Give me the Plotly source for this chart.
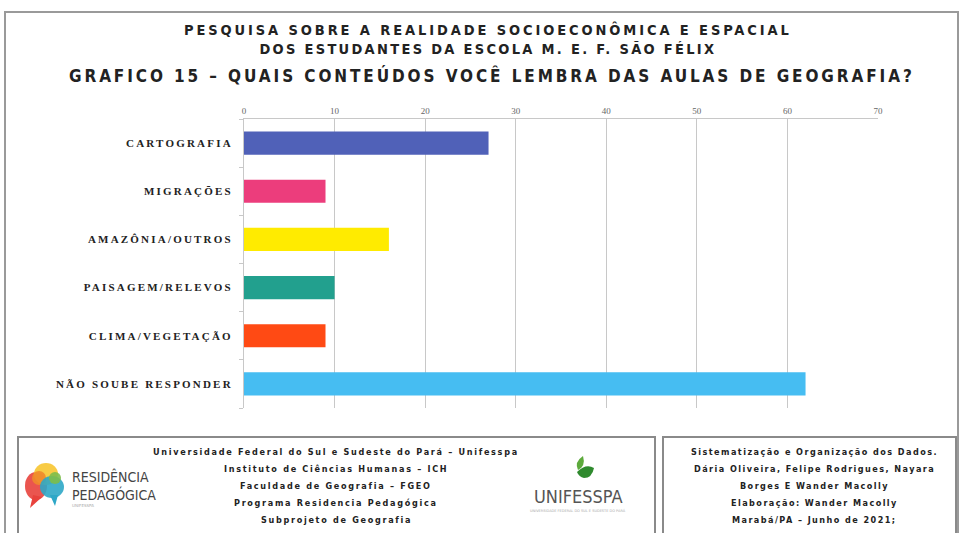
import plotly.graph_objects as go

# Survey answers: contents students remember from Geography classes
categorias = ["CARTOGRAFIA", "MIGRAÇÕES", "AMAZÔNIA/OUTROS",
              "PAISAGEM/RELEVOS", "CLIMA/VEGETAÇÃO", "NÃO SOUBE RESPONDER"]
respostas = [27, 9, 16, 10, 9, 62]
cores = ["#5061B8", "#EC3D7C", "#FFEB00", "#22A08E", "#FF4A14", "#46BDF2"]
ticks_x = [0, 10, 20, 30, 40, 50, 60, 70]

titulo_1 = "PESQUISA SOBRE A REALIDADE SOCIOECONÔMICA E ESPACIAL"
titulo_2 = "DOS ESTUDANTES DA ESCOLA M. E. F. SÃO FÉLIX"
titulo_3 = "GRAFICO 15 – QUAIS CONTEÚDOS VOCÊ LEMBRA DAS AULAS DE GEOGRAFIA?"

rodape_esq = ["Universidade Federal do Sul e Sudeste do Pará – Unifesspa",
              "Instituto de Ciências Humanas – ICH",
              "Faculdade de Geografia – FGEO",
              "Programa Residencia Pedagógica",
              "Subprojeto de Geografia"]
rodape_dir = ["Sistematização e Organização dos Dados.",
              "Dária Oliveira, Felipe Rodrigues, Nayara",
              "Borges E Wander Macolly",
              "Elaboração: Wander Macolly",
              "Marabá/PA – Junho de 2021;"]

W, H = 960, 533
ML, MR, MT, MB = 244, 82, 119, 125
PW, PH = W - ML - MR, H - MT - MB


def px(x):
    return (x - ML) / PW


def py(y):
    return (H - MB - y) / PH


def spaced(t, s):
    return f'<span style="letter-spacing:{s}px">{t}</span>'


COND = "DejaVu Sans Condensed, DejaVu Sans, sans-serif"

fig = go.Figure(go.Bar(
    x=respostas, y=categorias, orientation="h",
    marker=dict(color=cores, line=dict(width=0)),
    width=0.48, hoverinfo="x+y",
))

fig.update_layout(
    width=W, height=H,
    margin=dict(l=ML, r=MR, t=MT, b=MB),
    paper_bgcolor="white", plot_bgcolor="white",
    showlegend=False,
    xaxis=dict(side="top", range=[0, 70], tickvals=ticks_x,
               showgrid=True, gridcolor="#c8c8c8", gridwidth=1,
               showline=True, linecolor="#c8c8c8", linewidth=1,
               zeroline=False, ticks="", fixedrange=True,
               tickfont=dict(family="Liberation Serif, serif", size=9, color="#666")),
    yaxis=dict(autorange="reversed", tickvals=categorias,
               ticktext=[spaced(c, 2.2) for c in categorias],
               showline=True, linecolor="#c8c8c8", linewidth=1,
               ticks="outside", tickson="boundaries", ticklen=4,
               tickcolor="#c8c8c8", showgrid=False, fixedrange=True,
               ticklabelstandoff=8,
               tickfont=dict(family="Liberation Serif, serif", size=11,
                             color="#222", weight="bold")),
)

shapes = []
# outer frame
shapes.append(dict(type="rect", xref="paper", yref="paper",
                   x0=px(5), x1=px(958), y0=py(545), y1=py(12),
                   line=dict(color="#9a9a9a", width=2), layer="below"))
# footer boxes
shapes.append(dict(type="rect", xref="paper", yref="paper",
                   x0=px(18), x1=px(655), y0=py(545), y1=py(437),
                   line=dict(color="#8a8a8a", width=2)))
shapes.append(dict(type="rect", xref="paper", yref="paper",
                   x0=px(663), x1=px(956), y0=py(545), y1=py(437),
                   line=dict(color="#8a8a8a", width=2)))


def blob(cx, cy, rx, ry, color):
    return dict(type="circle", xref="paper", yref="paper",
                x0=px(cx - rx), x1=px(cx + rx), y0=py(cy + ry), y1=py(cy - ry),
                fillcolor=color, line=dict(width=0), opacity=0.9)


# Residência Pedagógica emblem
shapes += [blob(36, 486, 11, 14, "#E8423C"),
           blob(46, 474, 12, 11, "#F7C531"),
           blob(39, 478, 7, 7, "#F08A2C"),
           blob(52, 487, 12, 11, "#2EA7C7"),
           blob(55, 478, 6, 6, "#7DBE4A")]
shapes.append(dict(type="path", xref="paper", yref="paper",
                   path=f"M {px(33)} {py(495)} L {px(30)} {py(508)} L {px(42)} {py(497)} Z",
                   fillcolor="#E8423C", line=dict(width=0)))
shapes.append(dict(type="path", xref="paper", yref="paper",
                   path=f"M {px(50)} {py(495)} L {px(55)} {py(506)} L {px(58)} {py(495)} Z",
                   fillcolor="#2EA7C7", line=dict(width=0)))
# Unifesspa leaf emblem
shapes.append(dict(type="path", xref="paper", yref="paper",
                   path=(f"M {px(583)} {py(456)} Q {px(574)} {py(462)} {px(578)} {py(470)} "
                         f"Q {px(586)} {py(466)} {px(583)} {py(456)} Z"),
                   fillcolor="#5DAA3C", line=dict(width=0)))
shapes.append(dict(type="path", xref="paper", yref="paper",
                   path=(f"M {px(577)} {py(472)} Q {px(586)} {py(463)} {px(594)} {py(468)} "
                         f"Q {px(592)} {py(478)} {px(584)} {py(478)} "
                         f"Q {px(579)} {py(477)} {px(577)} {py(472)} Z"),
                   fillcolor="#2F8A2E", line=dict(width=0)))
fig.update_layout(shapes=shapes)

ann = []


def text(x, y, t, size, family, color="#222", bold=True, anchor="center", sp=0):
    ann.append(dict(x=px(x), y=py(y), xref="paper", yref="paper",
                    text=spaced(t, sp) if sp else t, showarrow=False,
                    xanchor=anchor, yanchor="middle",
                    font=dict(family=family, size=size, color=color,
                              weight="bold" if bold else "normal")))


text(488, 38.5, spaced(titulo_1, 2.9) + "<br>" + spaced(titulo_2, 2.3), 14.5, COND)
text(492, 76, titulo_3, 17, COND, sp=2.9)

for i, t in enumerate(rodape_esq):
    text(336, 452 + 17 * i, t, 9, COND, sp=1.7)
for i, t in enumerate(rodape_dir):
    text(814, 452 + 17 * i, t, 9, COND, sp=1.45)

text(70, 476, "RESIDÊNCIA", 14, COND, color="#444", bold=False, anchor="left")
text(70, 494, "PEDAGÓGICA", 14, COND, color="#444", bold=False, anchor="left")
text(70, 505, "UNIFESSPA", 4, "DejaVu Sans", color="#aaa", bold=False, anchor="left")
text(578, 496, "UNIFESSPA", 18, COND, color="#555", bold=False)
text(578, 510, "UNIVERSIDADE FEDERAL DO SUL E SUDESTE DO PARÁ", 3.5,
     "DejaVu Sans", color="#aaa", bold=False)

fig.update_layout(annotations=ann)
fig.write_html("out.html")
